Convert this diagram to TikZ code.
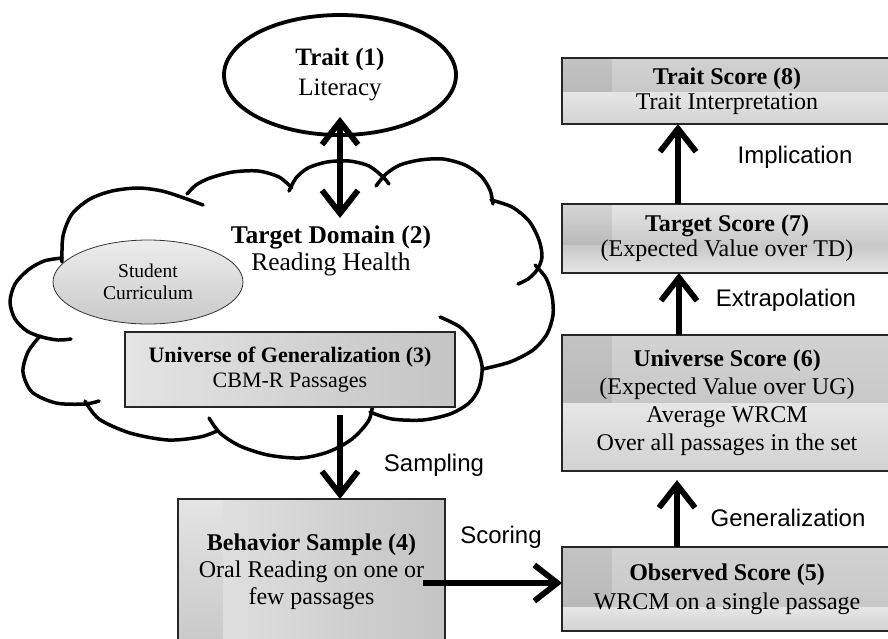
\documentclass[tikz,border=0pt]{standalone}
\usepackage{fontspec}
\setmainfont{Liberation Serif}
\newfontfamily\labelsans{Liberation Sans}
\usetikzlibrary{shapes.geometric,arrows.meta,calc,backgrounds}
\definecolor{bandA}{HTML}{D2D2D2}
\definecolor{bandB}{HTML}{C8C8C8}
\definecolor{bandC}{HTML}{E6E6E6}
\definecolor{bandD}{HTML}{D2D2D2}
\definecolor{lightg}{HTML}{E4E4E4}
\definecolor{darkg}{HTML}{C4C4C4}
\definecolor{ellT}{HTML}{EDEDED}
\definecolor{ellB}{HTML}{C9C9C9}
\newcommand\bandbox[6]{%
  \shade[top color=#3,bottom color=#4] (#1.north west) rectangle ($(#1.north east)!#2!(#1.south east)$);
  \shade[top color=#5,bottom color=#6] ($(#1.north west)!#2!(#1.south west)$) rectangle (#1.south east);
  \fill[black,opacity=0.07] (#1.north west) rectangle ($(#1.north west)!#2!(#1.south west)+(50,0)$);
}
\begin{document}
\begin{tikzpicture}[x=1pt,y=-1pt,
  sbox/.style={draw=black!85, line width=1.3pt, rectangle, inner sep=0pt, outer sep=0pt,
               align=center, font=\fontsize{24}{27.5}\selectfont},
  lbl/.style={font=\labelsans\fontsize{24}{27}\selectfont, inner sep=0pt},
  arr/.style={line width=5.8pt, >={Straight Barb[length=23pt,width=36pt]}, ->},
  dbl/.style={arr, <->},
  cloudline/.style={line width=3.5pt, line cap=round, line join=round},
]
\useasboundingbox (0,0) rectangle (888,638);

% nodes
\node[ellipse, draw, line width=3.8pt, fill=white, minimum width=232pt, minimum height=120pt,
      inner sep=0pt, align=center, font=\fontsize{25}{30}\selectfont] (trait) at (340,75)
      {\textbf{Trait (1)}\\Literacy};
\node[align=center, font=\fontsize{25.5}{27}\selectfont, inner sep=0pt] (td) at (331,251)
      {\textbf{Target Domain (2)}\\Reading Health};
\node[ellipse, draw=black!80, line width=0.8pt, top color=ellT, bottom color=ellB,
      minimum width=190pt, minimum height=84pt, inner sep=0pt, align=center,
      font=\fontsize{19.5}{21.5}\selectfont] (stud) at (148,282) {Student\\Curriculum};
\node[sbox, left color=lightg, right color=darkg, minimum width=330pt, minimum height=75pt,
      font=\fontsize{22}{25}\selectfont] (b3) at (290,369.5)
      {\textbf{Universe of Generalization (3)}\\CBM-R Passages};
\node[sbox, minimum width=267pt, minimum height=146pt, font=\fontsize{24}{27}\selectfont] (b4) at (311.5,572)
      {\textbf{Behavior Sample (4)}\\Oral Reading on one or\\few passages};
\node[sbox, minimum width=330pt, minimum height=84pt, font=\fontsize{24}{29}\selectfont] (b5) at (727,589)
      {\textbf{Observed Score (5)}\\WRCM on a single passage};
\node[sbox, minimum width=330pt, minimum height=136pt, font=\fontsize{24}{28}\selectfont] (b6) at (727,403)
      {\textbf{Universe Score (6)}\\(Expected Value over UG)\\Average WRCM\\Over all passages in the set};
\node[sbox, minimum width=330pt, minimum height=69pt, font=\fontsize{24}{25}\selectfont] (b7) at (727,238.5)
      {\textbf{Target Score (7)}\\(Expected Value over TD)};
\node[sbox, minimum width=330pt, minimum height=66pt, font=\fontsize{24}{25}\selectfont] (b8) at (727,91)
      {\textbf{Trait Score (8)}\\Trait Interpretation};

% labels
\node[lbl] (limp) at (795,157) {Implication};
\node[lbl] (lext) at (786,300) {Extrapolation};
\node[lbl] (lgen) at (788,518) {Generalization};
\node[lbl] (lsco) at (501,537) {Scoring};
\node[lbl] (lsam) at (434,465) {Sampling};

% background: cloud and box shadings
\begin{scope}[on background layer]
  \draw[cloudline] plot[smooth] coordinates {(62,262) (63,236) (72,214) (90,199) (112,191) (138,188) (162,191) (184,198) (203,205)};
  \draw[cloudline] plot[smooth] coordinates {(187,194) (196,185) (210,178) (233,172) (258,171) (279,177) (292,188)};
  \draw[cloudline] plot[smooth] coordinates {(289,191) (296,178) (308,168) (327,162) (349,161) (369,166) (383,177) (389,184)};
  \draw[cloudline] plot[smooth] coordinates {(376,186) (386,174) (400,165) (420,160) (443,159) (465,165) (481,176) (490,190) (493,204)};
  \draw[cloudline] plot[smooth] coordinates {(491,200) (512,207) (529,221) (539,240) (542,257) (537,270) (528,279) (518,284)};
  \draw[cloudline] plot[smooth] coordinates {(535,265) (546,278) (552,296) (553,315) (547,334) (533,350) (510,362) (483,369)};
  \draw[cloudline] plot[smooth] coordinates {(440,317) (460,327) (474,343) (482,366) (479,388) (469,403) (450,414) (423,420) (392,419) (370,412)};
  \draw[cloudline] plot[smooth] coordinates {(373,401) (369,420) (352,439) (328,452) (300,458) (268,455) (240,446) (220,433) (209,418)};
  \draw[cloudline] plot[smooth] coordinates {(85,401) (99,419) (130,433) (168,440) (200,437) (217,431)};
  \draw[cloudline] plot[smooth] coordinates {(40,336) (28,352) (23,372) (32,392) (56,403) (85,404) (99,401)};
  \draw[cloudline] plot[smooth] coordinates {(62,258) (44,261) (28,270) (15,284) (10,302) (15,319) (27,331) (42,337) (58,340) (71,339)};

  \bandbox{b8}{0.52}{bandA}{bandB}{bandC}{bandD}
  \bandbox{b7}{0.6}{bandC}{bandB}{bandB}{bandC}
  \bandbox{b6}{0.5}{bandA}{bandB}{bandC}{bandD}
  \bandbox{b5}{0.72}{bandA}{bandB}{bandC}{bandD}

  \shade[left color=lightg, right color=darkg] (b4.north west) rectangle (b4.south east);
  \shade[top color=lightg, bottom color=ellB] (b4.north west) rectangle ($(b4.south west)+(45,0)$);
\end{scope}

% connectors
\coordinate (dt) at ($(trait.south)+(0,-20)$);
\coordinate (db) at (340,218);
\draw[dbl] (db) -- (dt);
\coordinate (sa0) at (340,415);
\draw[arr] (sa0) -- (sa0 |- b4.north);
\coordinate (sc0) at (423,583);
\draw[arr] (sc0) -- (sc0 -| b5.west);
\draw[arr] ([xshift=-50pt]b5.north) -- ([xshift=-50pt,yshift=-9pt]b6.south);
\draw[arr] ([xshift=-48pt]b6.north) -- ([xshift=-48pt]b7.south);
\draw[arr] ([xshift=-49pt]b7.north) -- ([xshift=-49pt]b8.south);
\end{tikzpicture}
\end{document}
